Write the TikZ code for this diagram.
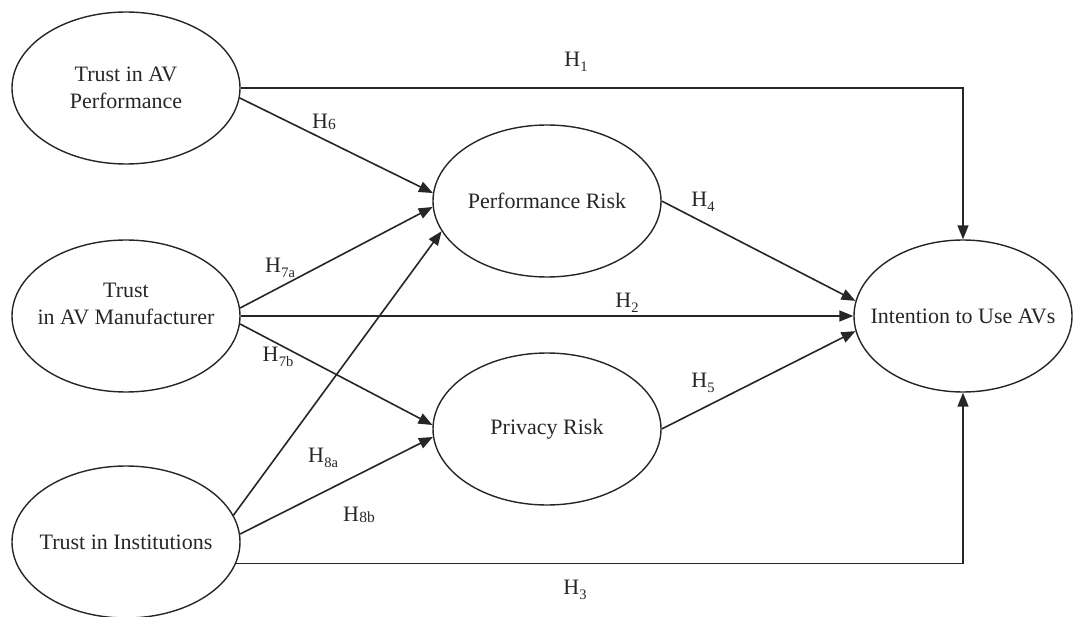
\documentclass[tikz,border=0pt]{standalone}
\usepackage{fontspec}
\setmainfont{Liberation Serif}
\usetikzlibrary{arrows.meta,shapes.geometric}

% hypothesis labels: H with a lowered index, or with a small index on the baseline
\newcommand{\hlow}[1]{H\kern0.3pt\raisebox{-5pt}{\fontsize{14.5}{14.5}\selectfont #1}}
\newcommand{\hflat}[1]{H\kern0.3pt\raisebox{-0.5pt}{\fontsize{15.5}{15.5}\selectfont #1}}

\begin{document}
\begin{tikzpicture}[x=1pt,y=-1pt,
  construct/.style={ellipse, draw=black!85, line width=1.4pt,
    minimum width=228pt, minimum height=152pt, inner sep=0pt},
  caption/.style={align=center, text=black!85, inner sep=0pt,
    font=\fontsize{22}{27}\selectfont},
  link/.style={line width=1.6pt, draw=black!85,
    -{Triangle[length=14pt,width=11pt]}},
  hlabel/.style={font=\fontsize{22}{22}\selectfont, text=black!85, inner sep=0pt}]
\useasboundingbox (0,0) rectangle (1073,617);

% constructs (fixed-size ellipses, captions laid on top)
\node[construct, label={[caption]center:{Trust in AV\\Performance}}] (tap) at (126,88) {};
\node[construct, label={[caption, yshift=12pt]center:{Trust\\in AV Manufacturer}}] (tam) at (126,316) {};
\node[construct, label={[caption]center:{Trust in Institutions}}] (ti) at (126,542) {};
\node[construct, label={[caption]center:{Performance Risk}}] (pr) at (547,201) {};
\node[construct, label={[caption]center:{Privacy Risk}}] (priv) at (547,429) {};
\node[construct, minimum width=218pt, label={[caption]center:{Intention to Use AVs}}] (iu) at (963,316) {};

% paths
\draw[link] (tap.east) -| (iu.north);
\draw[link] (tap.-5) -- (pr.176);
\draw[link] (tam.4) -- (pr.183);
\draw[link] (tam.east) -- (iu.west);
\draw[link] (tam.-4) -- (priv.178);
\draw[link] (ti.14) -- (pr.-164);
\draw[link] (ti.4) -- (priv.-176);
\draw[link] (ti.-11) -| (iu.south);
\draw[link] (pr.east) -- (iu.172);
\draw[link] (priv.east) -- (iu.188);

% hypothesis labels
\node[hlabel] (l1) at (576,62) {\hlow{1}};
\node[hlabel] (l6) at (324,122) {\hflat{6}};
\node[hlabel] (l7a) at (280,268) {\hlow{7a}};
\node[hlabel] (l2) at (627,303) {\hlow{2}};
\node[hlabel] (l7b) at (278,357) {\hlow{7b}};
\node[hlabel] (l8a) at (323,458) {\hlow{8a}};
\node[hlabel] (l8b) at (359,515) {\hflat{8b}};
\node[hlabel] (l3) at (575,590) {\hlow{3}};
\node[hlabel] (l4) at (703,202) {\hlow{4}};
\node[hlabel] (l5) at (703,383) {\hlow{5}};
\end{tikzpicture}
\end{document}
